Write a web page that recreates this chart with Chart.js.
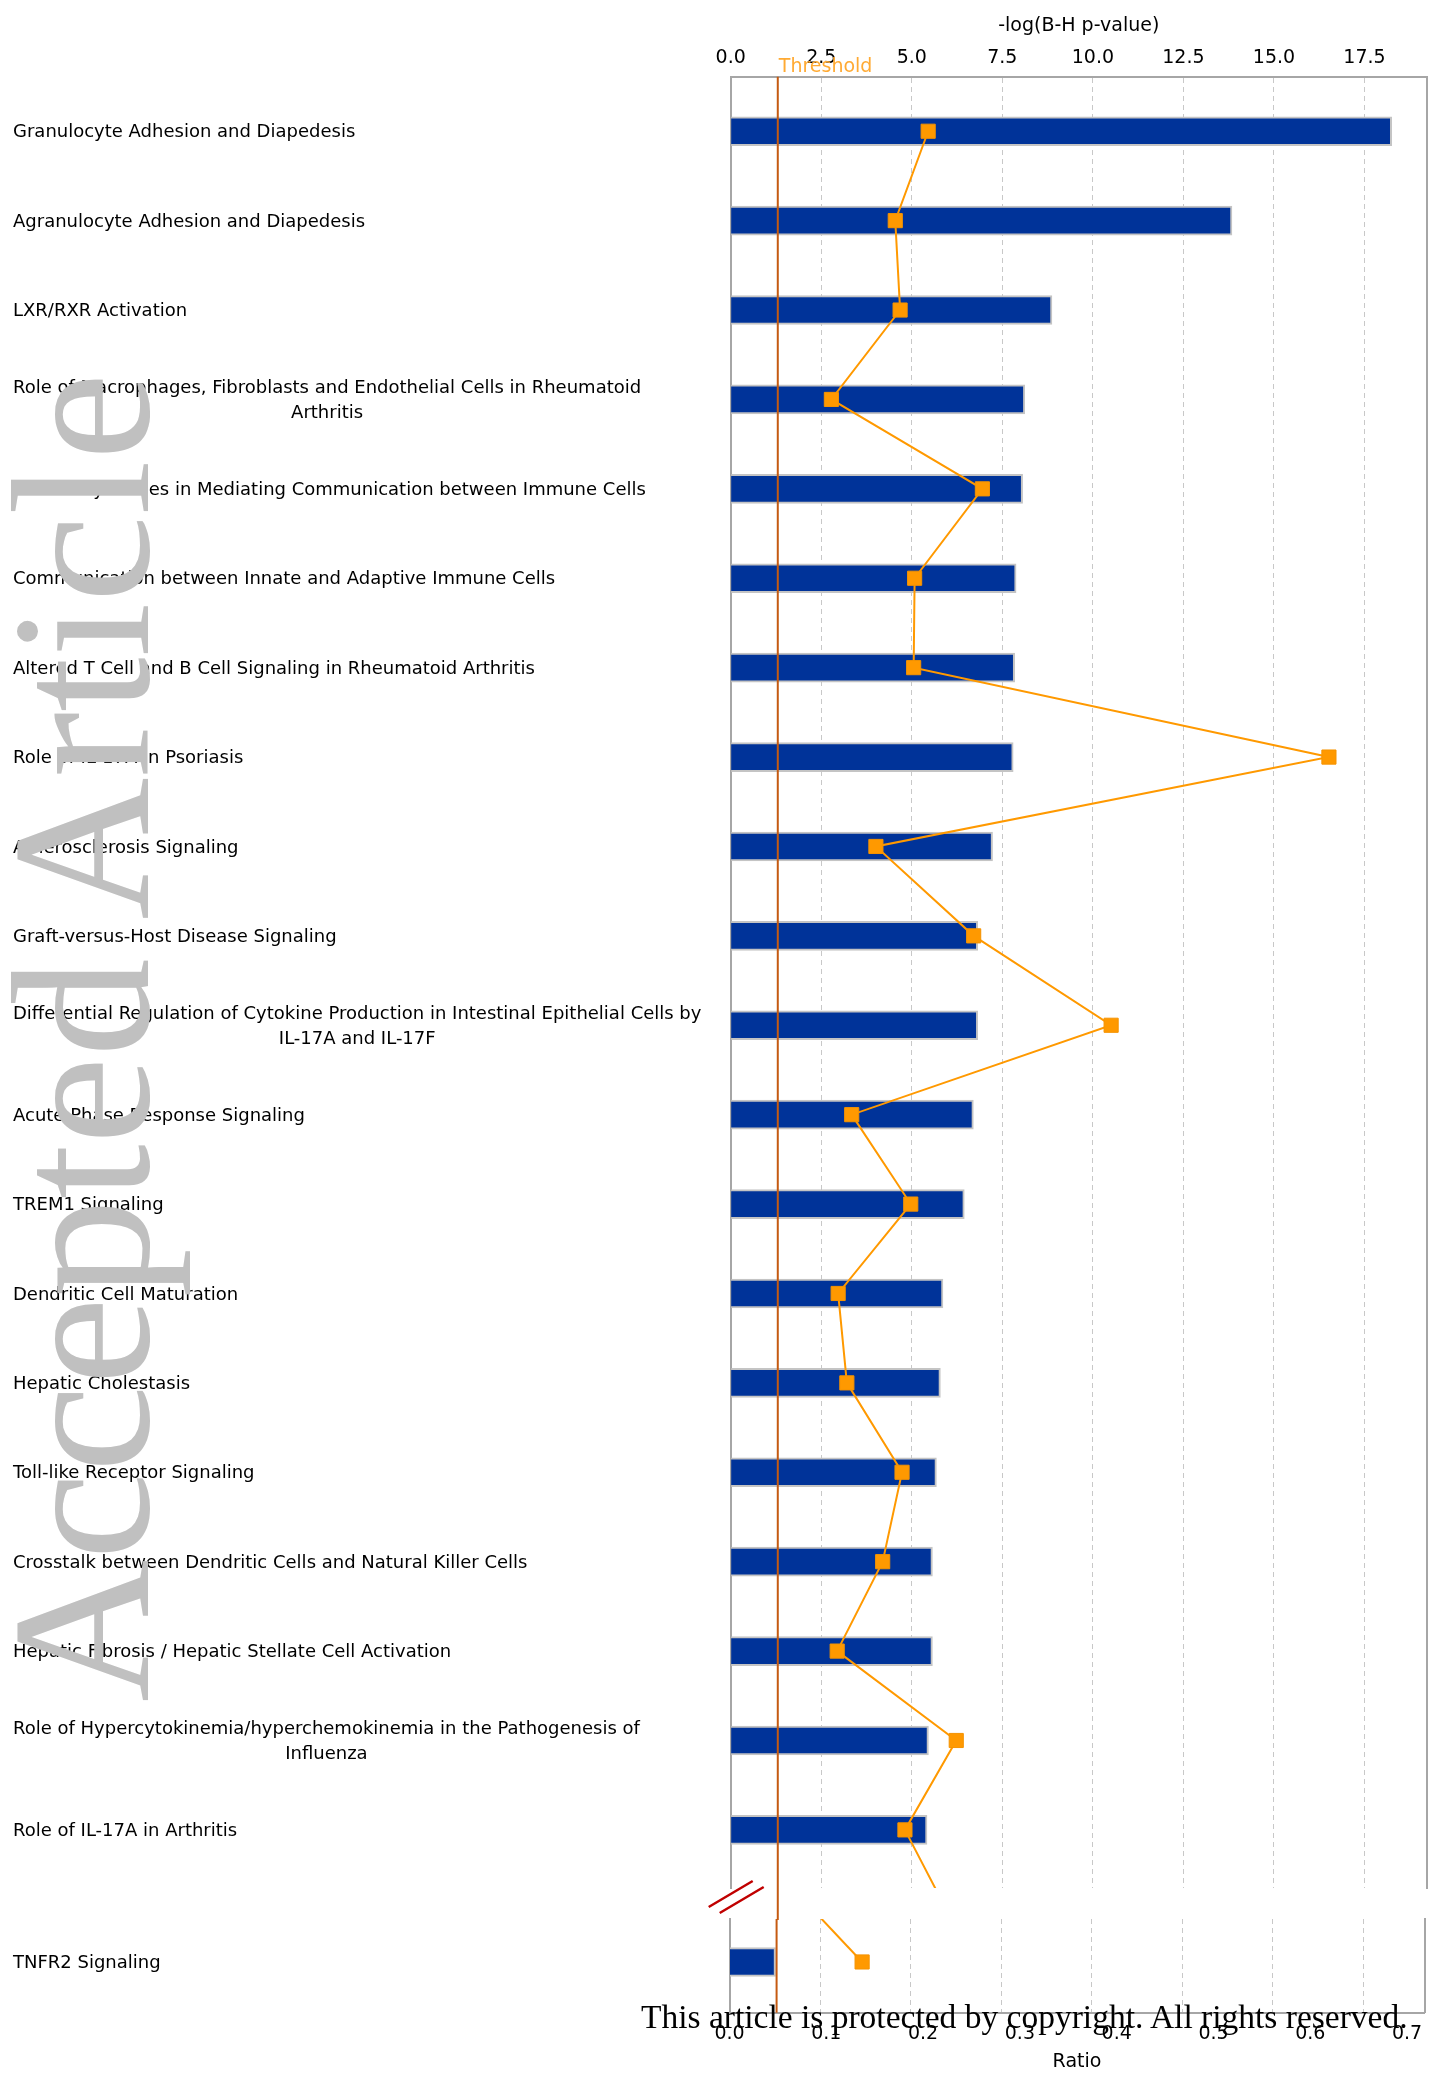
<!DOCTYPE html>
<html>
<head>
<meta charset="utf-8">
<title>Canonical pathways</title>
<script src="https://cdn.jsdelivr.net/npm/chart.js@4.4.1/dist/chart.umd.min.js"></script>
<style>
  html, body { margin: 0; padding: 0; background: #fff; }
  #page { position: relative; width: 1440px; height: 2080px; overflow: hidden; background: #fff; }
  #page canvas { position: absolute; left: 0; top: 0; }
  #watermark {
    position: absolute; left: -17px; top: 1702px;
    transform-origin: 0 0; transform: rotate(-90deg);
    font: 197px "Liberation Serif", "DejaVu Serif", serif; line-height: 1;
    color: #c0c0c0; white-space: nowrap; pointer-events: none;
  }
  #copyright {
    position: absolute; left: 641px; top: 2000px;
    font: 33.5px "Liberation Serif", "DejaVu Serif", serif; line-height: 1;
    color: #000; white-space: nowrap; pointer-events: none;
  }
</style>
</head>
<body>
<div id="page">
  <canvas id="upper" width="1440" height="2080"></canvas>
  <canvas id="lower" width="1440" height="2080"></canvas>
  <div id="watermark">Accepted Article</div>
  <div id="copyright">This article is protected by copyright. All rights reserved.</div>
</div>
<script>
// Canonical pathways shown above the axis break (each entry: label lines)
const pathways = [
  ['Granulocyte Adhesion and Diapedesis'],
  ['Agranulocyte Adhesion and Diapedesis'],
  ['LXR/RXR Activation'],
  ['Role of Macrophages, Fibroblasts and Endothelial Cells in Rheumatoid', 'Arthritis'],
  ['Role of Cytokines in Mediating Communication between Immune Cells'],
  ['Communication between Innate and Adaptive Immune Cells'],
  ['Altered T Cell and B Cell Signaling in Rheumatoid Arthritis'],
  ['Role of IL-17A in Psoriasis'],
  ['Atherosclerosis Signaling'],
  ['Graft-versus-Host Disease Signaling'],
  ['Differential Regulation of Cytokine Production in Intestinal Epithelial Cells by', 'IL-17A and IL-17F'],
  ['Acute Phase Response Signaling'],
  ['TREM1 Signaling'],
  ['Dendritic Cell Maturation'],
  ['Hepatic Cholestasis'],
  ['Toll-like Receptor Signaling'],
  ['Crosstalk between Dendritic Cells and Natural Killer Cells'],
  ['Hepatic Fibrosis / Hepatic Stellate Cell Activation'],
  ['Role of Hypercytokinemia/hyperchemokinemia in the Pathogenesis of', 'Influenza'],
  ['Role of IL-17A in Arthritis']
];
// -log(B-H p-value) per pathway
const negLogP = [18.25, 13.84, 8.87, 8.12, 8.06, 7.88, 7.84, 7.80, 7.23, 6.82,
                 6.82, 6.70, 6.45, 5.86, 5.79, 5.68, 5.57, 5.57, 5.46, 5.42];
// Ratio (overlapping genes / pathway size) per pathway
const ratio = [0.204, 0.170, 0.175, 0.104, 0.260, 0.190, 0.189, 0.618, 0.150, 0.251,
               0.393, 0.125, 0.186, 0.111, 0.120, 0.177, 0.157, 0.110, 0.233, 0.180];

// Pathway shown below the axis break
const tailPathways = [['TNFR2 Signaling']];
const tailNegLogP = [1.27];
const tailRatio = [0.137];

// Ratios of the unlisted pathways adjacent to the break (the ratio line runs through them)
const ratioAfterTop = [0.228];
const ratioBeforeTail = [0.050];

// Axis ticks and the significance threshold, -log(0.05)
const negLogTickStep = 2.5;
const ratioTickStep = 0.1;
const thresholdValue = 1.3;

const BLUE = '#003399', BAR_EDGE = '#c4c4c4', ORANGE = '#ff9900';
const AXIS = '#a6a6a6', GRID = '#c8c8c8', THRESH = '#c55a11';
const FONT = '"DejaVu Sans", Verdana, sans-serif';

Chart.defaults.font.family = FONT;
Chart.defaults.font.size = 19;
Chart.defaults.color = '#000';

// Row labels: first line left-aligned, continuation lines centred under it
const rowLabels = {
  id: 'rowLabels',
  afterDraw(chart, args, opts) {
    const ctx = chart.ctx, y = chart.scales.y;
    ctx.save();
    ctx.font = '18px ' + FONT;
    ctx.fillStyle = '#000';
    ctx.textBaseline = 'middle';
    opts.labels.forEach((lines, i) => {
      const yc = y.getPixelForValue(i) + opts.shift;
      const w0 = ctx.measureText(lines[0]).width;
      lines.forEach((t, k) => {
        const ty = yc + (k - (lines.length - 1) / 2) * opts.lineHeight;
        if (k === 0) { ctx.textAlign = 'left'; ctx.fillText(t, opts.x, ty); }
        else { ctx.textAlign = 'center'; ctx.fillText(t, opts.x + w0 / 2, ty); }
      });
    });
    ctx.restore();
  }
};

// Vertical threshold line (and its caption on the upper panel)
const thresholdLine = {
  id: 'thresholdLine',
  afterDatasetsDraw(chart, args, opts) {
    const ctx = chart.ctx, x = chart.scales.xl.getPixelForValue(opts.value);
    const { top, bottom } = chart.chartArea;
    ctx.save();
    ctx.strokeStyle = THRESH;
    ctx.lineWidth = 2;
    ctx.beginPath();
    ctx.moveTo(x, top - (opts.extendTop || 0));
    ctx.lineTo(x, bottom + (opts.extendBottom || 0));
    ctx.stroke();
    ctx.restore();
  },
  afterDraw(chart, args, opts) {
    if (!opts.caption) return;
    const ctx = chart.ctx, x = chart.scales.xl.getPixelForValue(opts.value);
    ctx.save();
    ctx.font = '19px ' + FONT;
    ctx.fillStyle = '#ffaa33';
    ctx.textAlign = 'left';
    ctx.textBaseline = 'middle';
    ctx.fillText(opts.caption, x + 1, chart.chartArea.top - 10);
    ctx.restore();
  }
};

// Double-slash mark on the left axis where it is broken
const axisBreak = {
  id: 'axisBreak',
  afterDraw(chart) {
    const ctx = chart.ctx, { left, bottom } = chart.chartArea;
    ctx.save();
    ctx.strokeStyle = '#c00000';
    ctx.lineWidth = 2.5;
    ctx.beginPath();
    ctx.moveTo(left - 22, bottom + 19); ctx.lineTo(left + 22, bottom - 7);
    ctx.moveTo(left - 11, bottom + 25); ctx.lineTo(left + 33, bottom - 1);
    ctx.stroke();
    ctx.restore();
  }
};

const lineStyle = {
  type: 'line', xAxisID: 'xr', yAxisID: 'y', order: 0,
  borderColor: ORANGE, borderWidth: 2, backgroundColor: ORANGE,
  pointStyle: 'rect', pointRadius: 10, pointHoverRadius: 10,
  pointBackgroundColor: ORANGE, pointBorderColor: '#f59300', pointBorderWidth: 1,
  tension: 0, fill: false
};
const barStyle = {
  type: 'bar', xAxisID: 'xl', yAxisID: 'y', order: 1,
  backgroundColor: BLUE, borderColor: BAR_EDGE, borderWidth: 2,
  borderSkipped: 'start', barThickness: 29
};
const negLogTicks = {
  stepSize: negLogTickStep, includeBounds: false,
  callback: v => Number(v).toFixed(1)
};

// Upper panel: pathways 1-20
new Chart(document.getElementById('upper'), {
  data: {
    datasets: [
      Object.assign({}, lineStyle, {
        label: 'Ratio',
        data: ratio.concat(ratioAfterTop).map((r, i) => ({ x: r, y: i }))
      }),
      Object.assign({}, barStyle, {
        label: '-log(B-H p-value)',
        data: negLogP.map((v, i) => ({ x: v, y: i }))
      })
    ]
  },
  options: {
    indexAxis: 'y', responsive: false, animation: false, devicePixelRatio: 1,
    layout: { padding: { left: 0, top: 0, right: 0, bottom: 2080 - 1888 } },
    plugins: {
      legend: { display: false }, tooltip: { enabled: false },
      rowLabels: { labels: pathways, x: 13, lineHeight: 25, shift: 1.5 },
      thresholdLine: { value: thresholdValue, caption: 'Threshold', extendBottom: 32 }
    },
    scales: {
      y: {
        type: 'linear', position: 'left', reverse: true, min: -0.61, max: 19.65,
        offset: false, grace: 0,
        afterFit: s => { s.width = 730.7; },
        ticks: { display: false }, grid: { display: false, offset: false },
        border: { display: true, color: AXIS, width: 2 }
      },
      yr: {
        type: 'linear', position: 'right', min: 0, max: 1, offset: false,
        afterFit: s => { s.width = 1440 - 1426.8; },
        ticks: { display: false }, grid: { display: false },
        border: { display: true, color: AXIS, width: 2 }
      },
      xl: {
        type: 'linear', position: 'top', min: 0, max: 19.22, offset: false,
        afterFit: s => { s.height = 76.7; },
        ticks: Object.assign({ padding: 7 }, negLogTicks),
        grid: { color: GRID, lineWidth: 1, drawTicks: false },
        border: { display: true, color: AXIS, width: 2, dash: [5, 4] },
        title: { display: true, text: '-log(B-H p-value)', padding: { top: 15, bottom: 0 } }
      },
      xr: { type: 'linear', display: false, min: 0, max: 0.7191, offset: false }
    }
  },
  plugins: [rowLabels, thresholdLine, axisBreak]
});

// Lower panel: pathway after the break
new Chart(document.getElementById('lower'), {
  data: {
    datasets: [
      Object.assign({}, lineStyle, {
        label: 'Ratio',
        data: ratioBeforeTail.concat(tailRatio).map((r, i) => ({ x: r, y: i - ratioBeforeTail.length }))
      }),
      Object.assign({}, barStyle, {
        label: '-log(B-H p-value)',
        data: tailNegLogP.map((v, i) => ({ x: v, y: i }))
      })
    ]
  },
  options: {
    indexAxis: 'y', responsive: false, animation: false, devicePixelRatio: 1,
    layout: { padding: { left: 0, top: 1919, right: 0, bottom: 0 } },
    plugins: {
      legend: { display: false }, tooltip: { enabled: false },
      rowLabels: { labels: tailPathways, x: 13, lineHeight: 25, shift: 1.5 },
      thresholdLine: { value: thresholdValue }
    },
    scales: {
      y: {
        type: 'linear', position: 'left', reverse: true, min: -0.48, max: 0.567,
        offset: false, grace: 0,
        afterFit: s => { s.width = 729.5; },
        ticks: { display: false }, grid: { display: false, offset: false },
        border: { display: true, color: AXIS, width: 2 }
      },
      yr: {
        type: 'linear', position: 'right', min: 0, max: 1, offset: false,
        afterFit: s => { s.width = 1440 - 1424.5; },
        ticks: { display: false }, grid: { display: false },
        border: { display: true, color: AXIS, width: 2 }
      },
      xl: {
        type: 'linear', position: 'top', min: 0, max: 19.19, offset: false,
        afterFit: s => { s.height = 0; },
        ticks: Object.assign({ display: false }, negLogTicks),
        grid: { color: GRID, lineWidth: 1, drawTicks: false },
        border: { display: false, dash: [5, 4] }
      },
      xr: {
        type: 'linear', position: 'bottom', min: 0, max: 0.718, offset: false,
        afterFit: s => { s.height = 2080 - 2012.7; },
        ticks: { stepSize: ratioTickStep, includeBounds: false, padding: 10,
                 callback: v => Number(v).toFixed(1) },
        grid: { display: false, drawTicks: false },
        border: { display: true, color: AXIS, width: 2 },
        title: { display: true, text: 'Ratio', padding: { top: 0, bottom: 7 } }
      }
    }
  },
  plugins: [rowLabels, thresholdLine]
});
</script>
</body>
</html>
